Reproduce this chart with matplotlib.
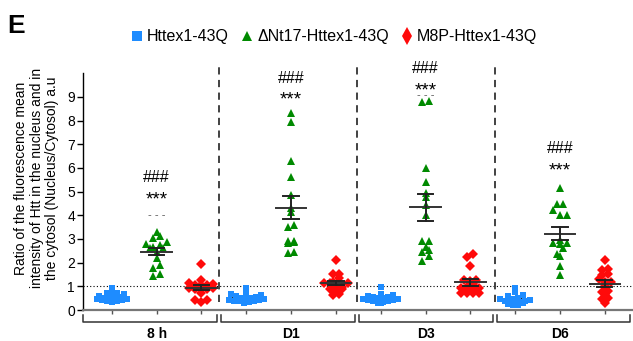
import numpy as np
import matplotlib
matplotlib.use("Agg")
import matplotlib.pyplot as plt
import matplotlib.transforms as mtransforms
from matplotlib.lines import Line2D

plt.rcParams['font.family'] = ['Liberation Sans', 'DejaVu Sans']

# ---- data ----
timepoints = ["8 h", "D1", "D3", "D6"]
series_names = ["Httex1-43Q", "ΔNt17-Httex1-43Q", "M8P-Httex1-43Q"]
series_colors = ["#1E8CFF", "#008A00", "#FF0A0A"]
series_markers = ["s", "^", "D"]

htt_43q = [
    [0.92, 0.72, 0.70, 0.68, 0.66, 0.58, 0.55, 0.52, 0.50, 0.48, 0.46, 0.45, 0.43, 0.41, 0.39, 0.36, 0.33],
    [0.95, 0.70, 0.66, 0.62, 0.58, 0.55, 0.52, 0.50, 0.48, 0.46, 0.44, 0.42, 0.40, 0.38, 0.36, 0.33, 0.30],
    [0.96, 0.68, 0.64, 0.60, 0.57, 0.54, 0.51, 0.49, 0.47, 0.45, 0.43, 0.41, 0.39, 0.37, 0.34, 0.31, 0.28],
    [0.93, 0.78, 0.62, 0.58, 0.52, 0.48, 0.45, 0.42, 0.40, 0.38, 0.35, 0.32, 0.30, 0.28, 0.25, 0.22, 0.20],
]
dnt17 = [
    [3.28, 3.14, 3.04, 2.88, 2.80, 2.74, 2.66, 2.60, 2.60, 2.47, 2.18, 1.92, 1.79, 1.51, 1.44],
    [8.34, 7.93, 6.28, 5.61, 4.86, 4.31, 4.14, 3.49, 3.58, 2.93, 2.87, 2.84, 2.91, 2.40, 2.45],
    [8.77, 8.85, 5.99, 5.40, 4.95, 4.78, 4.45, 4.02, 2.90, 2.93, 2.66, 2.52, 2.45, 2.30, 2.09],
    [5.15, 4.48, 4.48, 4.21, 4.03, 4.03, 2.97, 2.84, 2.77, 2.81, 2.60, 2.29, 2.37, 1.87, 1.48],
]
m8p = [
    [1.95, 1.26, 1.16, 1.07, 1.05, 1.06, 1.10, 0.92, 0.89, 0.89, 0.89, 0.95, 0.72, 0.42, 0.35, 0.41],
    [2.12, 1.53, 1.53, 1.34, 1.20, 1.15, 1.15, 1.13, 0.90, 0.85, 0.99, 0.98, 0.90, 0.64, 0.67],
    [2.37, 2.23, 1.84, 1.26, 1.24, 1.27, 1.10, 0.96, 0.85, 0.95, 0.85, 0.92, 0.71, 0.70, 0.71, 0.70],
    [2.11, 1.74, 1.70, 1.53, 1.47, 1.30, 1.17, 1.17, 1.02, 0.82, 0.76, 0.66, 0.51, 0.45, 0.28],
]
all_series = [htt_43q, dnt17, m8p]

# significance marks over the ΔNt17 columns
hash_y = [5.65, 9.84, 10.26, 6.87]
star_y = [4.92, 9.16, 9.54, 6.15]
dash_y = [4.03, None, 9.09, None]

# ---- figure ----
fig = plt.figure(figsize=(6.33, 3.41), dpi=100)
ax = fig.add_axes([0.1307, 0.0909, 0.8693, 0.6941])
xmin, xmax = -0.65, 11.63
ymin, ymax = 0, 10
ax.set_xlim(xmin, xmax)
ax.set_ylim(ymin, ymax)

px_x = 633 * 0.8693 / (xmax - xmin)
px_y = 341 * 0.6941 / (ymax - ymin)


def column_offsets(values, row_px, step_px):
    # Prism-like column scatter: points in the same value row sit side by side,
    # lowest in the middle and working outwards
    vals = np.asarray(values, float)
    rows = np.round(vals * px_y / row_px).astype(int)
    offs = np.zeros(len(vals))
    for r in np.unique(rows):
        idx = np.where(rows == r)[0]
        idx = idx[np.argsort(vals[idx])]
        n = len(idx)
        slots = np.arange(n) - (n - 1) / 2
        slots = slots[np.argsort(np.abs(slots), kind="stable")]
        for k, i in enumerate(idx):
            sgn = 1 if k % 2 else -1
            offs[i] = sgn * abs(slots[k]) * step_px / px_x
    return offs


row_px = [4.5, 6.5, 5.0]
step_px = [5.0, 6.8, 6.0]
sizes = [5.0, 5.4, 4.6]
bar_z = [2.5, 4, 4]
for g in range(len(timepoints)):
    for s, data in enumerate(all_series):
        vals = np.array(data[g])
        xc = g * 3 + s
        xs = xc + column_offsets(vals, row_px[s], step_px[s])
        ax.plot(xs, vals, linestyle="none", marker=series_markers[s], ms=sizes[s],
                color=series_colors[s], mew=0, zorder=3)
        m = vals.mean()
        sem = vals.std(ddof=1) / np.sqrt(len(vals))
        ax.plot([xc - 0.34, xc + 0.34], [m, m], color="#333333", lw=1.4, zorder=bar_z[s])
        ax.plot([xc, xc], [m - sem, m + sem], color="#222222", lw=1.4, zorder=bar_z[s])
        for yy in (m - sem, m + sem):
            ax.plot([xc - 0.17, xc + 0.17], [yy, yy], color="#222222", lw=1.4, zorder=bar_z[s])

# reference line at 1
ax.axhline(1, color="black", lw=0.8, linestyle=(0, (1, 2)), zorder=1)

# dashed dividers between time points
for xd in [2.39, 5.47, 8.55]:
    ax.plot([xd, xd], [0.32, 10.35], color="#333333", lw=1.3, dashes=(4, 3), clip_on=False, zorder=2)

# significance text
for g in range(len(timepoints)):
    xc = g * 3 + 1
    ax.text(xc, hash_y[g] - 0.24, "###", ha="center", va="baseline", fontsize=11.5, clip_on=False)
    ax.text(xc, star_y[g] - 0.47, "***", ha="center", va="baseline", fontsize=13.5, clip_on=False)
    if dash_y[g] is not None:
        ax.text(xc, dash_y[g] - 0.13, "- - -", ha="center", va="baseline", fontsize=8,
                color="#555555", clip_on=False)

# axes styling
for side in ["top", "right"]:
    ax.spines[side].set_visible(False)
ax.spines["left"].set_linewidth(1.0)
ax.spines["bottom"].set_color("#777777")
ax.spines["bottom"].set_linewidth(1.6)
ax.set_yticks(range(0, 10))
ax.tick_params(axis="y", length=4, width=1, pad=1.5, labelsize=10)
ax.set_xticks(range(12))
ax.set_xticklabels([])
ax.tick_params(axis="x", length=3, width=1, color="#555555")

# group brackets and labels below the axis
trans = mtransforms.blended_transform_factory(ax.transData, ax.transAxes)
edges = [xmin - 0.04, 2.39, 5.47, 8.55, 11.6]
for g, label in enumerate(timepoints):
    x0 = edges[g] + 0.045
    x1 = edges[g + 1] - 0.045
    ax.plot([x0, x0, x1, x1], [-0.021, -0.049, -0.049, -0.021], color="#333333", lw=1.1,
            transform=trans, clip_on=False)
    ax.text(g * 3 + 1, -0.072, label, transform=trans, ha="center", va="top",
            fontsize=10, fontweight="bold")

# y label
fig.text(0.058, 0.478,
         "Ratio of the fluorescence mean\nintensity of Htt in the nucleus and in\nthe cytosol (Nucleus/Cytosol) a.u",
         rotation=90, ha="center", va="center", multialignment="center", fontsize=10, linespacing=1.15)

# panel letter
fig.text(0.012, 0.925, "E", fontsize=19, fontweight="bold", ha="left", va="center")

# legend
handles = [
    Line2D([], [], linestyle="none", marker="s", ms=7, color=series_colors[0], mew=0),
    Line2D([], [], linestyle="none", marker="^", ms=7.5, color=series_colors[1], mew=0),
    Line2D([], [], linestyle="none", marker="d", ms=9, color=series_colors[2], mew=0),
]
fig.legend(handles, series_names, loc="center", bbox_to_anchor=(0.528, 0.892), ncol=3,
           frameon=False, fontsize=11.5, handlelength=0.7, handletextpad=0.3,
           columnspacing=0.77, borderpad=0, borderaxespad=0)

fig.savefig("out.png", dpi=100)
